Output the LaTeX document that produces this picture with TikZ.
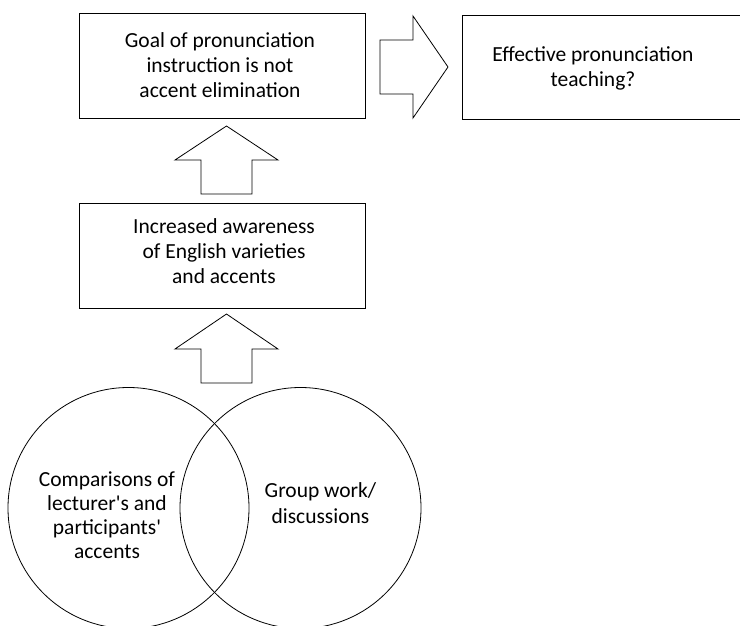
\documentclass[tikz,border=0pt]{standalone}
\usepackage{fontspec}
\setmainfont{Carlito}
\begin{document}
\begin{tikzpicture}[x=1pt,y=-1pt,
  boxnode/.style={draw, line width=0.9pt, rectangle, inner sep=0pt},
  ringnode/.style={draw, line width=0.8pt, circle, inner sep=0pt, minimum size=241pt},
  blockarrow/.style={draw, line width=0.8pt, line join=miter},
  txt/.style={font=\fontsize{21.5}{25}\selectfont, align=center, inner sep=0pt, anchor=base}]
\clip (0,0) rectangle (740,626);
% boxes
\node[boxnode, minimum width=286pt, minimum height=105pt] (goal) at (222,65.5) {};
\node[boxnode, minimum width=290pt, minimum height=104pt] (eff) at (607,67) {};
\node[boxnode, minimum width=286pt, minimum height=105pt] (aware) at (222,255.5) {};
% circles
\node[ringnode] (cmp) at (128.5,508) {};
\node[ringnode] (grp) at (300.5,508) {};
% block arrows
\draw[blockarrow] (380,40) -- (413,40) -- (413,16) -- (448,67) -- (413,118) -- (413,94) -- (380,94) -- cycle;
\draw[blockarrow] (201,194) -- (201,160) -- (175,160) -- (226.5,126) -- (278,160) -- (252,160) -- (252,194) -- cycle;
\draw[blockarrow] (201,383) -- (201,349) -- (175,349) -- (226.5,314) -- (278,349) -- (252,349) -- (252,383) -- cycle;
% texts (anchor base = baseline of the last line)
\node[txt] (goaltxt) at (220,97.7) {Goal of pronunciation\\instruction is not\\accent elimination};
\node[txt] (efftxt) at (593,87) {Effective pronunciation\\teaching?};
\node[txt] (awaretxt) at (224,283) {Increased awareness\\of English varieties\\and accents};
\node[txt, font=\fontsize{21.5}{24}\selectfont] (cmptxt) at (107,558) {Comparisons of\\lecturer\textquotesingle s and\\participants\textquotesingle\\accents};
\node[txt, font=\fontsize{21.5}{26}\selectfont] (grptxt) at (320.5,523) {Group work/\\discussions};
\end{tikzpicture}
\end{document}
